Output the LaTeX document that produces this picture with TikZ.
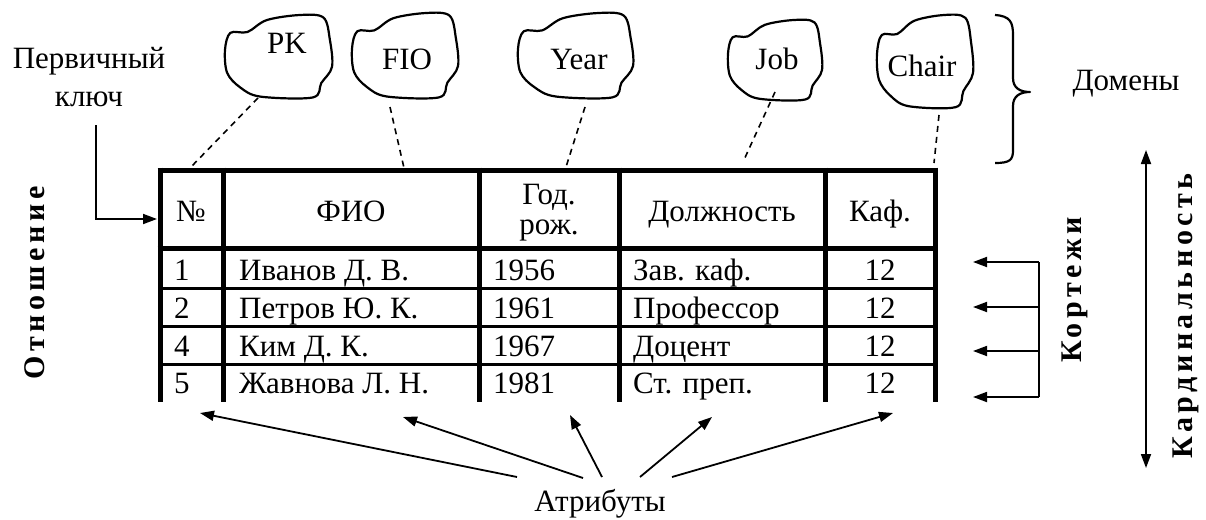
\documentclass[tikz,border=0pt]{standalone}
\usepackage{fontspec}
\setmainfont{Liberation Serif}
\usetikzlibrary{arrows.meta}
\newcommand{\myblob}[4]{%
  \draw[dom] plot[smooth cycle, tension=0.55] coordinates {
    ({#1+0.05*#3},{#2+0.21*#4}) ({#1+0.21*#3},{#2+0.20*#4}) ({#1+0.39*#3},{#2+0.06*#4})
    ({#1+0.70*#3},{#2+0.00*#4}) ({#1+0.92*#3},{#2+0.03*#4}) ({#1+0.98*#3},{#2+0.29*#4})
    ({#1+1.00*#3},{#2+0.61*#4}) ({#1+0.90*#3},{#2+0.80*#4}) ({#1+0.82*#3},{#2+0.97*#4})
    ({#1+0.33*#3},{#2+0.96*#4}) ({#1+0.14*#3},{#2+0.85*#4}) ({#1+0.02*#3},{#2+0.68*#4})
    ({#1+0.00*#3},{#2+0.41*#4})};}
\begin{document}
\begin{tikzpicture}[x=1pt,y=-1pt,
  txt/.style={inner sep=0pt, font=\fontsize{31}{36}\selectfont},
  vtxt/.style={inner sep=0pt, rotate=90, font=\fontsize{30}{36}\selectfont\bfseries\addfontfeatures{LetterSpace=15}},
  tblthick/.style={line width=5pt},
  tblthin/.style={line width=3pt},
  dom/.style={line width=2.2pt, line join=round},
  dsh/.style={line width=1.6pt, dash pattern=on 6pt off 5pt},
  plain/.style={line width=1.8pt},
  arr/.style={line width=1.8pt, -{Triangle[length=14pt,width=10pt]}},
  darr/.style={line width=1.8pt, {Triangle[length=14pt,width=10pt]}-{Triangle[length=14pt,width=10pt]}},
]
\useasboundingbox (0,0) rectangle (1206,519);
\fill[white] (0,0) rectangle (1206,519);

% table
\draw[tblthick] (157.5,170) -- (937.5,170);
\draw[tblthick] (157.5,248) -- (937.5,248);
\foreach \y in {288,326,364} \draw[tblthin] (160,\y) -- (935,\y);
\foreach \x in {160,223,479,619,825,935} \draw[tblthick] (\x,167.5) -- (\x,402);

% header
\node[txt, anchor=base] (hnum) at (191,221) {№};
\node[txt, anchor=base] (hfio) at (351,221) {ФИО};
\node[txt, anchor=base, align=center, font=\fontsize{31}{30}\selectfont] (hyear) at (549,234) {Год.\\рож.};
\node[txt, anchor=base] (hjob) at (722,221) {Должность};
\node[txt, anchor=base] (hkaf) at (880,221) {Каф.};

% rows
\node[txt, anchor=base west] (r1a) at (174,280) {1};
\node[txt, anchor=base west] (r1b) at (239,280) {Иванов Д. В.};
\node[txt, anchor=base west] (r1c) at (493,280) {1956};
\node[txt, anchor=base west] (r1d) at (633,280) {Зав. каф.};
\node[txt, anchor=base] (r1e) at (880,280) {12};
\node[txt, anchor=base west] (r2a) at (174,318) {2};
\node[txt, anchor=base west] (r2b) at (239,318) {Петров Ю. К.};
\node[txt, anchor=base west] (r2c) at (493,318) {1961};
\node[txt, anchor=base west] (r2d) at (633,318) {Профессор};
\node[txt, anchor=base] (r2e) at (880,318) {12};
\node[txt, anchor=base west] (r3a) at (174,356) {4};
\node[txt, anchor=base west] (r3b) at (239,356) {Ким Д. К.};
\node[txt, anchor=base west] (r3c) at (493,356) {1967};
\node[txt, anchor=base west] (r3d) at (633,356) {Доцент};
\node[txt, anchor=base] (r3e) at (880,356) {12};
\node[txt, anchor=base west] (r4a) at (174,393) {5};
\node[txt, anchor=base west] (r4b) at (239,393) {Жавнова Л. Н.};
\node[txt, anchor=base west] (r4c) at (493,393) {1981};
\node[txt, anchor=base west] (r4d) at (633,393) {Ст. преп.};
\node[txt, anchor=base] (r4e) at (880,393) {12};

% domains
\myblob{225}{15}{107}{85}
\myblob{352}{13}{106}{87}
\myblob{518}{13}{115}{87}
\myblob{728}{20}{94}{82}
\myblob{877}{15}{96}{95}
\node[txt, anchor=base] (dpk) at (287,53) {PK};
\node[txt, anchor=base] (dfio) at (407,70) {FIO};
\node[txt, anchor=base] (dyear) at (579,70) {Year};
\node[txt, anchor=base] (djob) at (777,70) {Job};
\node[txt, anchor=base] (dchair) at (922,76) {Chair};

\coordinate (pkA) at (258,98);   \coordinate (pkB) at (190,168);
\coordinate (fioA) at (390,107); \coordinate (fioB) at (404,168);
\coordinate (yrA) at (585,107);  \coordinate (yrB) at (566,167);
\coordinate (jobA) at (775,92);  \coordinate (jobB) at (743,162);
\coordinate (chA) at (939,115);  \coordinate (chB) at (934,163);
\draw[dsh] (pkA) -- (pkB);
\draw[dsh] (fioA) -- (fioB);
\draw[dsh] (yrA) -- (yrB);
\draw[dsh] (jobA) -- (jobB);
\draw[dsh] (chA) -- (chB);

% brace
\draw[dom] (995,15) .. controls (1010,16) and (1013,22) .. (1013,35)
  -- (1013,78) .. controls (1013,88) and (1020,92) .. (1030,92)
  .. controls (1020,92) and (1013,96) .. (1013,106)
  -- (1013,150) .. controls (1013,160) and (1010,163) .. (995,163);
\node[txt, anchor=base] (domeny) at (1126,90) {Домены};

% primary key
\node[txt, anchor=base, align=center, font=\fontsize{31}{38}\selectfont] (pkey) at (89,106) {Первичный\\ключ};
\coordinate (pkeyS) at (96,125);
\coordinate (pkeyE) at (157,219);
\draw[arr] (pkeyS) |- (pkeyE);

% relation
\node[vtxt] (rel) at (35,283) {Отношение};

% tuples
\node[vtxt] (tup) at (1075,290) {Кортежи};
\coordinate (kv1) at (1039,262);
\coordinate (kv2) at (1039,307);
\coordinate (kv3) at (1039,351);
\coordinate (kv4) at (1039,397);
\coordinate (kt1) at (973,262);
\coordinate (kt2) at (973,307);
\coordinate (kt3) at (973,351);
\coordinate (kt4) at (973,397);
\draw[plain] (kv1) -- (kv4);
\draw[arr] (kv1) -- (kt1);
\draw[arr] (kv2) -- (kt2);
\draw[arr] (kv3) -- (kt3);
\draw[arr] (kv4) -- (kt4);

% cardinality
\node[vtxt] (card) at (1186,316) {Кардинальность};
\coordinate (cT) at (1146,150);
\coordinate (cB) at (1146,468);
\draw[darr] (cT) -- (cB);

% attributes
\node[txt, anchor=base] (attr) at (600,511) {Атрибуты};
\coordinate (a1s) at (517,477); \coordinate (a1e) at (200,413);
\coordinate (a2s) at (583,478); \coordinate (a2e) at (403,417);
\coordinate (a3s) at (602,477); \coordinate (a3e) at (570,415);
\coordinate (a4s) at (640,477); \coordinate (a4e) at (712,417);
\coordinate (a5s) at (672,477); \coordinate (a5e) at (893,413);
\draw[arr] (a1s) -- (a1e);
\draw[arr] (a2s) -- (a2e);
\draw[arr] (a3s) -- (a3e);
\draw[arr] (a4s) -- (a4e);
\draw[arr] (a5s) -- (a5e);
\end{tikzpicture}
\end{document}
